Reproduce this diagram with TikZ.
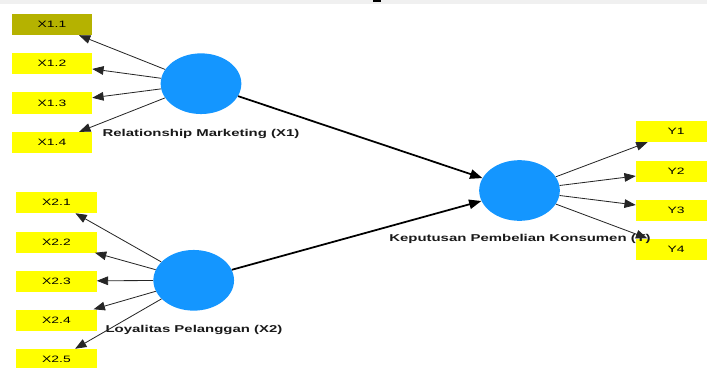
\documentclass[tikz,border=0pt]{standalone}
\usepackage{fontspec}
\newfontfamily\plsfont[FakeStretch=1.5]{Liberation Sans}
\usetikzlibrary{shapes.geometric}
\usetikzlibrary{arrows.meta}
\usepackage{xcolor}
\definecolor{lvblue}{RGB}{20,150,255}
\definecolor{indyellow}{RGB}{255,255,0}
\definecolor{indolive}{RGB}{181,178,0}

\begin{document}
\begin{tikzpicture}[x=0.03cm, y=-0.03cm]
        % ================= 样式定义 =================
        \tikzset{
            % 潜变量:蓝色椭圆
            latent/.style={ellipse, fill=lvblue, minimum width=2.42cm, minimum height=1.82cm, inner sep=0pt},
            % 指标:黄色方框
            indicator/.style={rectangle, fill=indyellow, minimum width=2.4cm, minimum height=0.63cm, inner sep=0pt, font=\plsfont\fontsize{7.9}{9}\selectfont},
            % 潜变量名称
            lvname/.style={anchor=base, inner sep=0pt, text=black!90, font=\plsfont\bfseries\fontsize{8.5}{10}\selectfont},
            % 细箭头(指标)
            loadedge/.style={line width=0.7pt, black!85, -{Triangle[length=3.4mm, width=2.6mm]}},
            % 粗箭头(结构路径)
            pathedge/.style={line width=1.5pt, black, -{Triangle[length=3.7mm, width=2.8mm]}}
        }

        \useasboundingbox (0,0) rectangle (707,367);
        % 顶部灰条
        \fill[black!6] (0,0) rectangle (707,4);
        \fill[black] (373,0) rectangle (381,2);

        % ================= 1. 潜变量 =================
        \node[latent] (rm) at (201, 83.7) {};
        \node[latent] (lp) at (193.7, 280.3) {};
        \node[latent] (kp) at (519.5, 190.5) {};

        % ================= 2. 指标方框 =================

        % --- X1 ---
        \node[indicator, fill=indolive] (x11) at (52, 24.5) {X1.1};
        \node[indicator] (x12) at (52, 63.5) {X1.2};
        \node[indicator] (x13) at (52, 103) {X1.3};
        \node[indicator] (x14) at (52, 142.5) {X1.4};

        % --- X2 ---
        \node[indicator] (x21) at (56.5, 202.5) {X2.1};
        \node[indicator] (x22) at (56.5, 242) {X2.2};
        \node[indicator] (x23) at (56.5, 281) {X2.3};
        \node[indicator] (x24) at (56.5, 320) {X2.4};
        \node[indicator] (x25) at (56.5, 359.5) {X2.5};

        % --- Y ---
        \node[indicator] (y1) at (676, 131.5) {Y1};
        \node[indicator] (y2) at (676, 171) {Y2};
        \node[indicator] (y3) at (676, 210) {Y3};
        \node[indicator] (y4) at (676, 249) {Y4};

        % ================= 3. 名称 =================
        \node[lvname] (rmname) at (201, 136) {Relationship Marketing (X1)};
        \node[lvname] (lpname) at (194, 332.5) {Loyalitas Pelanggan (X2)};
        \node[lvname] (kpname) at (520, 241.5) {Keputusan Pembelian Konsumen (Y)};

        % ================= 4. 连线 =================

        % --- X1 的指标 ---
        \draw[loadedge] (rm) -- (x11);
        \draw[loadedge] (rm) -- (x12);
        \draw[loadedge] (rm) -- (x13);
        \draw[loadedge] (rm) -- (x14);

        % --- X2 的指标 ---
        \draw[loadedge] (lp) -- (x21);
        \draw[loadedge] (lp) -- (x22);
        \draw[loadedge] (lp) -- (x23);
        \draw[loadedge] (lp) -- (x24);
        \draw[loadedge] (lp) -- (x25);

        % --- Y 的指标 ---
        \draw[loadedge] (kp) -- (y1);
        \draw[loadedge] (kp) -- (y2);
        \draw[loadedge] (kp) -- (y3);
        \draw[loadedge] (kp) -- (y4);

        % --- 结构路径 ---
        \draw[pathedge] (rm) -- (kp);
        \draw[pathedge] (lp) -- (kp);

    \end{tikzpicture}
\end{document}
